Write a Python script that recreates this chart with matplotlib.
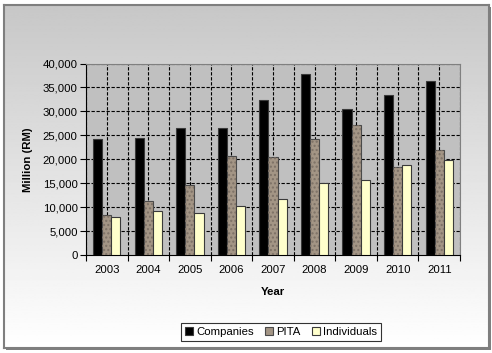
import numpy as np
import matplotlib
matplotlib.use("Agg")
import matplotlib.pyplot as plt
from matplotlib.patches import Rectangle

plt.rcParams['font.family'] = ['Liberation Sans', 'DejaVu Sans']

years = ['2003', '2004', '2005', '2006', '2007', '2008', '2009', '2010', '2011']
companies = [24200, 24500, 26500, 26600, 32300, 37900, 30400, 33400, 36400]
pita = [8400, 11300, 14600, 20600, 20500, 24200, 27200, 18300, 21900]
individuals = [8000, 9100, 8700, 10300, 11700, 15000, 15600, 18800, 19900]

W, H = 492, 353
fs = 8.2
fig = plt.figure(figsize=(W / 100, H / 100), dpi=100)
fig.patch.set_facecolor('white')

# gradient background box with shadow
x0, y0, x1, y1 = 4, 5, 489, 348
fig.patches.append(Rectangle((x0 / W + 2 / W, 1 - (y1 + 2) / H), (x1 - x0) / W, (y1 - y0) / H,
                             transform=fig.transFigure, facecolor='#7f7f7f', edgecolor='none', zorder=-3))
bg = fig.add_axes([x0 / W, 1 - y1 / H, (x1 - x0) / W, (y1 - y0) / H], zorder=-2)
grad = np.linspace(0.78, 1.0, 256).reshape(-1, 1)
bg.imshow(grad, aspect='auto', cmap='gray', vmin=0, vmax=1, extent=[0, 1, 0, 1], origin='upper')
bg.set_xticks([])
bg.set_yticks([])
for s in bg.spines.values():
    s.set_color('#7f7f7f')
    s.set_linewidth(1.5)

ax = fig.add_axes([86 / W, 1 - 255 / H, (460 - 86) / W, (255 - 63.5) / H])
ax.set_facecolor('#c0c0c0')

x = np.arange(len(years))
bw = 0.22
ax.bar(x - bw, companies, bw, color='black', edgecolor='#3a3a3a', linewidth=0.8, zorder=3, label='Companies')
ax.bar(x, pita, bw, color='#a39585', edgecolor='#4a4a4a', linewidth=0.8, zorder=3, label='PITA')
ax.bar(x, pita, bw, color='none', edgecolor='#7d7166', hatch='....', linewidth=0, zorder=3.5)
ax.bar(x + bw, individuals, bw, color='#ffffcc', edgecolor='#3a3a3a', linewidth=0.8, zorder=3, label='Individuals')

ax.set_xlim(-0.5, len(years) - 0.5)
ax.set_ylim(0, 40000)

# grid
for gx in np.arange(-0.5, len(years), 0.5):
    ax.axvline(gx, color='black', linestyle=(0, (3, 1.5)), linewidth=0.8, zorder=1)
for gy in np.arange(5000, 40001, 5000):
    ax.axhline(gy, color='black', linestyle=(0, (3, 1.5)), linewidth=0.8, zorder=1)

ax.set_xticks(np.arange(-0.5, len(years), 1.0))
ax.set_xticklabels([])
ax.set_xticks(x, minor=True)
ax.set_xticklabels(years, minor=True)
ax.tick_params(axis='x', which='major', direction='out', length=4, width=0.8, color='black')
ax.tick_params(axis='x', which='minor', length=0, pad=7, labelsize=fs)
ax.set_yticks(np.arange(0, 40001, 5000))
ax.set_yticklabels([f'{v:,}' for v in range(0, 40001, 5000)])
ax.tick_params(axis='y', direction='out', length=4, width=0.8, labelsize=fs, pad=2)

ax.spines['left'].set_color('black')
ax.spines['bottom'].set_color('black')
ax.spines['top'].set_color('#808080')
ax.spines['right'].set_color('#808080')

ax.set_ylabel('Million (RM)', fontsize=fs, fontweight='bold', labelpad=7)
ax.set_xlabel('Year', fontsize=fs, fontweight='bold', labelpad=9)

leg = fig.legend(loc='center', bbox_to_anchor=(281 / W, 1 - 332 / H), ncol=3, fontsize=fs,
                 handlelength=0.7, handleheight=0.7, handletextpad=0.3, columnspacing=1.0,
                 frameon=True, fancybox=False, borderpad=0.35)
leg.get_frame().set_edgecolor('black')
leg.get_frame().set_linewidth(0.8)

fig.savefig('out.png', dpi=100)
